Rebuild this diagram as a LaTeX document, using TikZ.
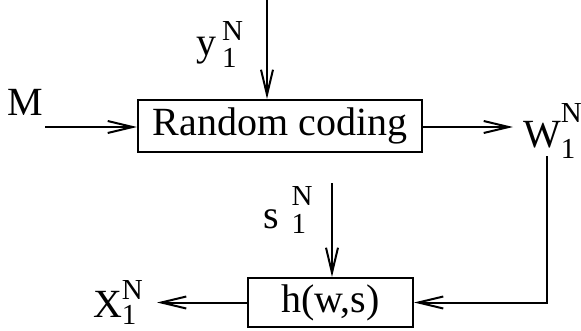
\documentclass[tikz,border=0pt]{standalone}
\usepackage{fontspec}
\setmainfont{Liberation Serif}
\usetikzlibrary{arrows.meta}

% letter with N over 1 beside it
\newcommand{\lbl}[4]{#1\hspace*{#2}{\fontsize{29}{29}\selectfont\rlap{\raisebox{-#4}{1}}\raisebox{#3}{N}}}

\begin{document}
\begin{tikzpicture}[x=1pt, y=-1pt, line width=2pt,
    every node/.style={font=\fontsize{40}{48}\selectfont, inner sep=0pt},
    blk/.style={draw, minimum height=52pt},
    sig/.style={-{Straight Barb[length=25pt, width=12pt]}}]
  \useasboundingbox (0,0) rectangle (581,330);
  % Blocks
  \node[blk, minimum width=284pt] (rc) at (280,126) {Random coding};
  \node[blk, minimum width=165pt, minimum height=49pt] (hb) at (330.5,302.5) {h(w,s)};

  % Labels
  \node (m) at (25,102) {M};
  \node[anchor=base west] (yin) at (195,55) {\lbl{y}{6pt}{15pt}{12pt}};
  \node[anchor=base west] (wout) at (522,147) {\lbl{W}{0pt}{25pt}{11pt}};
  \node[anchor=base west] (sin) at (262,228) {\lbl{s}{13pt}{23pt}{5pt}};
  \node[anchor=base west] (xout) at (92,317) {\lbl{X}{0pt}{18pt}{7pt}};

  % Free ends
  \coordinate (mstart) at (45,127);
  \coordinate (ytop) at (267,0);
  \coordinate (wtip) at (513,127);
  \coordinate (wdown) at (547,156);
  \coordinate (stop) at (332,183);
  \coordinate (xtip) at (157,304);

  % Signals
  \draw[sig] (mstart) -- (mstart -| rc.west);
  \draw[sig] (ytop) -- (ytop |- rc.north);
  \draw[sig] (rc.east |- wtip) -- (wtip);
  \draw[sig] (wdown) |- (hb.east);
  \draw[sig] (stop) -- (stop |- hb.north);
  \draw[sig] (hb.west) -- (hb.west -| xtip);
\end{tikzpicture}
\end{document}
